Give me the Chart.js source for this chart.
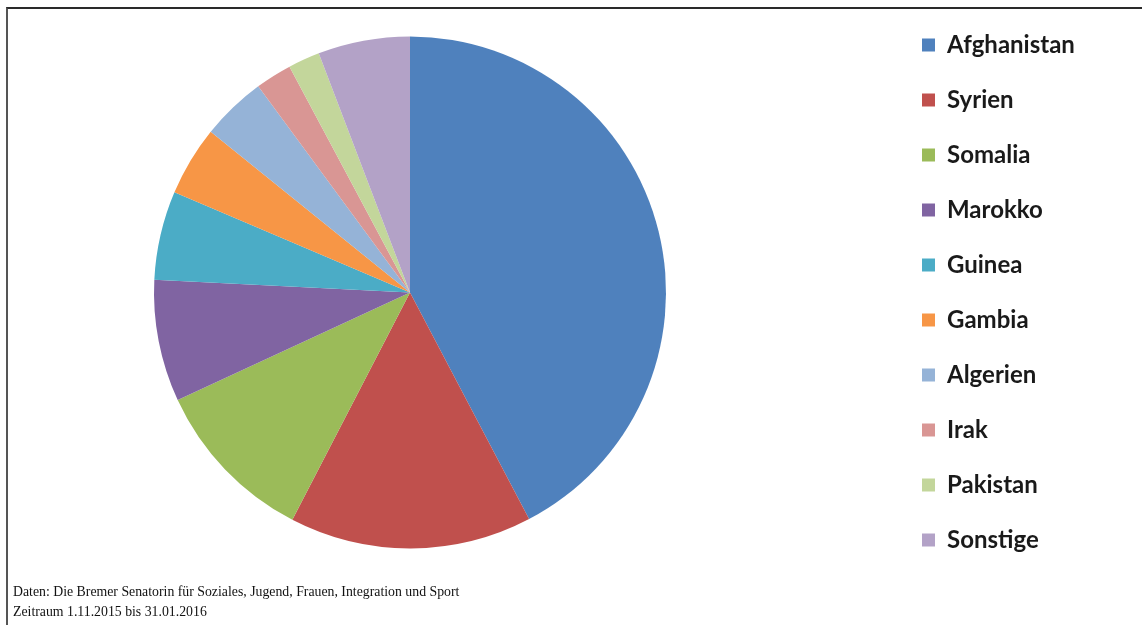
<!DOCTYPE html>
<html>
<head>
<meta charset="utf-8">
<script src="https://cdn.jsdelivr.net/npm/chart.js@4.4.1/dist/chart.umd.min.js"></script>
<style>
    html, body { margin: 0; padding: 0; background: #fff; }
    #page { position: relative; width: 1142px; height: 625px; overflow: hidden; background: #fff; }
    #frame {
        position: absolute; left: 6px; top: 7px; width: 1140px; height: 625px;
        border-top: 2px solid #2a2a2a; border-left: 2px solid #555;
    }
    #pie { position: absolute; left: -71px; top: 0; }
    #note {
        position: absolute; left: 13px; top: 582px;
        font-family: "Liberation Serif", "DejaVu Serif", serif;
        font-size: 13.8px; line-height: 20px; color: #111;
    }
</style>
</head>
<body>
<div id="page">
    <div id="frame"></div>
    <canvas id="pie" width="1194" height="600"></canvas>
    <div id="note">Daten: Die Bremer Senatorin für Soziales, Jugend, Frauen, Integration und Sport<br>Zeitraum 1.11.2015 bis 31.01.2016</div>
</div>
<script>
// shares (percent of all cases)
var countries = ['Afghanistan', 'Syrien', 'Somalia', 'Marokko', 'Guinea',
                 'Gambia', 'Algerien', 'Irak', 'Pakistan', 'Sonstige'];
var shares = [42.3, 15.3, 10.5, 7.7, 5.6, 4.4, 4.1, 2.3, 2.0, 5.8];
var colors = ['#4f81bd', '#c0504d', '#9bbb59', '#8064a2', '#4bacc6',
              '#f79646', '#95b3d7', '#d99694', '#c3d69b', '#b3a2c7'];

var ctx = document.getElementById('pie');

new Chart(ctx, {
    type: 'pie',
    data: {
        labels: countries,
        datasets: [{
            data: shares,
            backgroundColor: colors,
            borderWidth: 0,
            radius: 256
        }]
    },
    options: {
        responsive: false,
        animation: false,
        devicePixelRatio: 1,
        layout: {
            padding: { left: 0, top: 2, right: 40, bottom: 17 }
        },
        plugins: {
            tooltip: { enabled: false },
            legend: {
                position: 'right',
                align: 'start',
                // fixed legend width so the pie sits left of centre like the original
                maxWidth: 192,
                labels: {
                    boxWidth: 13,
                    boxHeight: 13,
                    padding: 31,
                    color: '#1a1a1a',
                    font: { family: 'Lato, "Open Sans", sans-serif', size: 24, weight: 'bold' }
                }
            }
        }
    }
});
</script>
</body>
</html>
